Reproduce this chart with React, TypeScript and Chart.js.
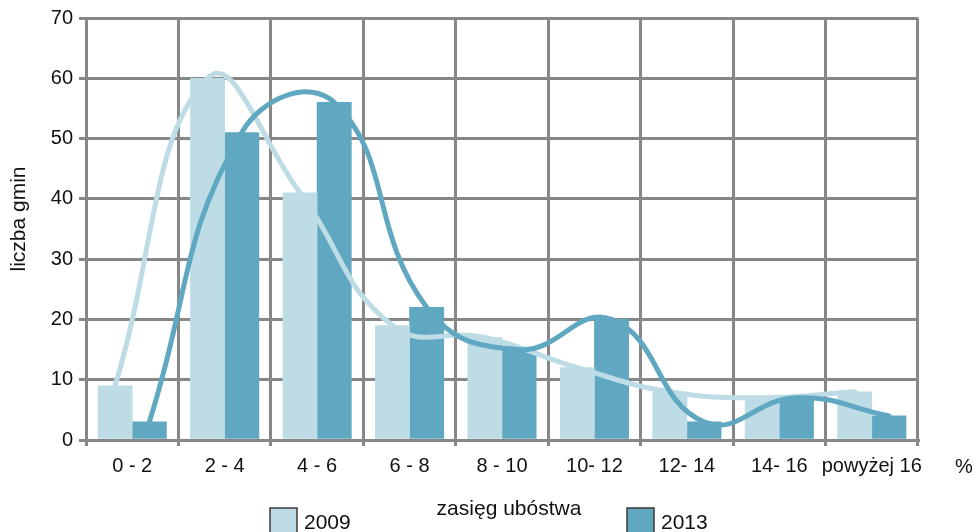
import React, { useEffect, useRef } from "react";
import { Chart, registerables } from "chart.js";

Chart.register(...registerables);

const categories = ["0 - 2", "2 - 4", "4 - 6", "6 - 8", "8 - 10", "10- 12", "12- 14", "14- 16", "powyżej 16"];
const values2009 = [9, 60, 41, 19, 17, 12, 8, 7, 8];
const values2013 = [3, 51, 56, 22, 15, 20, 3, 7, 4];
const seriesLabels = ["2009", "2013"];
const yMin = 0;
const yMax = 70;
const yStep = 10;
const xTitle = "zasięg ubóstwa";
const yTitle = "liczba gmin";
const unitLabel = "%";

const LIGHT = "#BDDCE5";
const DARK = "#60A8C1";
const GRID = "#878787";
const TEXT = "#111111";
const FONT = "Liberation Sans, Arial, sans-serif";
const BAR_SHIFT = 0.185;

const customText = {
  id: "customText",
  afterDraw(chart: any) {
    const ctx = chart.ctx;
    const area = chart.chartArea;
    ctx.save();
    ctx.fillStyle = TEXT;
    ctx.save();
    ctx.translate(19, 219);
    ctx.rotate(-Math.PI / 2);
    ctx.font = `21px ${FONT}`;
    ctx.textAlign = "center";
    ctx.textBaseline = "middle";
    ctx.fillText(yTitle, 0, 0);
    ctx.restore();
    ctx.font = `21px ${FONT}`;
    ctx.textAlign = "center";
    ctx.textBaseline = "alphabetic";
    ctx.fillText(xTitle, (area.left + area.right) / 2 + 7, 515);
    ctx.font = `20px ${FONT}`;
    ctx.textAlign = "left";
    ctx.fillText(unitLabel, 955, 473);
    const items = [
      { x: 270, color: LIGHT, label: seriesLabels[0] },
      { x: 627, color: DARK, label: seriesLabels[1] },
    ];
    items.forEach((it) => {
      ctx.fillStyle = it.color;
      ctx.fillRect(it.x, 508, 27, 28);
      ctx.strokeStyle = "#3a3a3a";
      ctx.lineWidth = 1.5;
      ctx.strokeRect(it.x, 508, 27, 28);
      ctx.fillStyle = TEXT;
      ctx.font = `21px ${FONT}`;
      ctx.textAlign = "left";
      ctx.textBaseline = "alphabetic";
      ctx.fillText(it.label, it.x + 34, 529);
    });
    ctx.restore();
  },
};

export default function App() {
  const canvasRef = useRef<HTMLCanvasElement | null>(null);

  useEffect(() => {
    if (!canvasRef.current) return;
    const lineCommon = {
      type: "line",
      xAxisID: "xl",
      yAxisID: "y",
      borderWidth: 5,
      borderCapStyle: "round",
      pointRadius: 0,
      tension: 0.45,
      fill: false,
    };
    const barCommon = {
      type: "bar",
      xAxisID: "xl",
      yAxisID: "y",
      grouped: false,
      categoryPercentage: 1,
      barPercentage: 1,
      borderWidth: 0,
      order: 2,
    };
    const chart = new Chart(canvasRef.current, {
      type: "bar",
      data: {
        labels: categories,
        datasets: [
          {
            ...lineCommon,
            label: seriesLabels[1] + " trend",
            data: values2013.map((v, i) => ({ x: i + BAR_SHIFT, y: v })),
            borderColor: DARK,
            order: 0,
          } as any,
          {
            ...lineCommon,
            label: seriesLabels[0] + " trend",
            data: values2009.map((v, i) => ({ x: i - BAR_SHIFT, y: v })),
            borderColor: LIGHT,
            order: 1,
          } as any,
          {
            ...barCommon,
            label: seriesLabels[0],
            data: values2009.map((v, i) => ({ x: i - BAR_SHIFT, y: v })),
            backgroundColor: LIGHT,
          } as any,
          {
            ...barCommon,
            label: seriesLabels[1],
            data: values2013.map((v, i) => ({ x: i + BAR_SHIFT, y: v })),
            backgroundColor: DARK,
          } as any,
        ],
      },
      options: {
        animation: false,
        responsive: true,
        maintainAspectRatio: false,
        layout: { padding: { top: 17, right: 59, left: 0, bottom: 0 } },
        plugins: { legend: { display: false }, tooltip: { enabled: false } },
        scales: {
          x: {
            type: "category",
            labels: categories,
            offset: true,
            grid: { offset: true, color: GRID, lineWidth: 3, tickLength: 6, tickColor: GRID },
            border: { color: GRID, width: 3 },
            ticks: { color: TEXT, font: { size: 20, family: FONT }, padding: 8, maxRotation: 0, autoSkip: false },
            afterFit: (s: any) => { s.height = 92; },
          },
          xl: {
            type: "linear",
            display: false,
            offset: false,
            grid: { offset: false },
            min: -0.5,
            max: 8.5,
            ticks: { stepSize: 0.5 },
          },
          y: {
            min: yMin,
            max: yMax,
            ticks: { stepSize: yStep, color: TEXT, font: { size: 20, family: FONT }, padding: 6 },
            grid: { color: GRID, lineWidth: 3, tickLength: 7, tickColor: GRID },
            border: { color: GRID, width: 3 },
            afterFit: (s: any) => { s.width = 86; },
          },
        },
      },
      plugins: [customText],
    });
    return () => chart.destroy();
  }, []);

  return (
    <div style={{ position: "fixed", left: 0, top: 0, width: 977, height: 532, background: "#fff" }}>
      <canvas ref={canvasRef} />
    </div>
  );
}
